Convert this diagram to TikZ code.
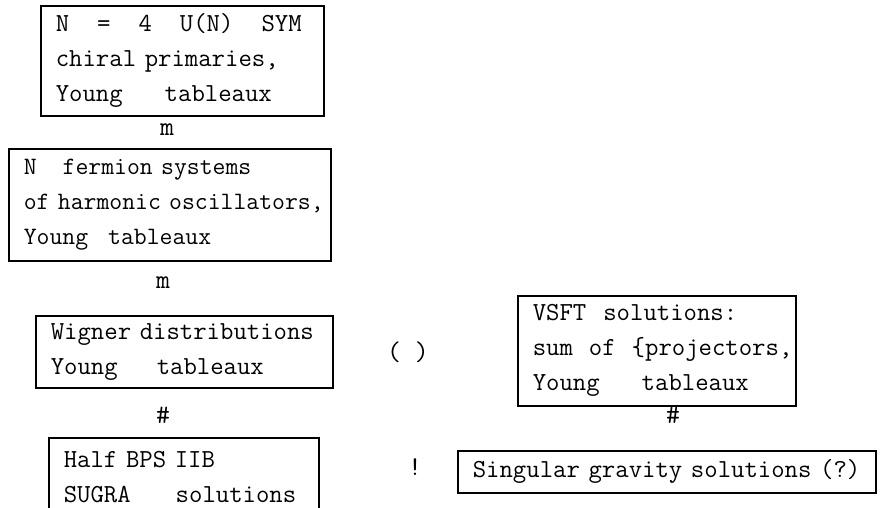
\documentclass[tikz,border=0pt]{standalone}
\usepackage{fontspec}
\newcommand\gp[1]{\hspace*{#1pt}}
\begin{document}
\begin{tikzpicture}[x=1pt,y=-1pt,
  box/.style={draw, line width=1.6pt, anchor=north west, align=left,
    inner xsep=15pt, inner ysep=0pt,
    font=\ttfamily\fontsize{26}{35}\selectfont},
  small/.style={font=\ttfamily\fontsize{25}{35}\selectfont},
  sym/.style={inner sep=0pt, font=\ttfamily\fontsize{27}{30}\selectfont}]
\useasboundingbox (0,0) rectangle (880,507);
\clip (0,0) rectangle (880,507);
\node[box, text width=253pt, minimum height=110pt] (b1) at (40,5)
  {\mbox{N\gp{28}=\gp{28}4\gp{28}U(N)\gp{28}SYM}\\
   \mbox{chiral primaries,}\\
   \mbox{Young\gp{42}tableaux}};
\node[sym] (a1) at (167,130) {m};
\node[box, small, text width=292pt, minimum height=112pt] (b2) at (8,148)
  {\mbox{N\gp{26}fermion systems}\\
   \mbox{of harmonic oscillators,}\\
   \mbox{Young\gp{20}tableaux}};
\node[sym] (a2) at (163,283) {m};
\node[box, text width=267pt, minimum height=72pt] (b3) at (35,315)
  {\mbox{Wigner distributions}\\
   \mbox{Young\gp{39}tableaux}};
\node[sym] (a3) at (408,352) {( )};
\node[box, text width=248pt, minimum height=110pt] (b5) at (517,295)
  {\mbox{VSFT\gp{17}solutions:}\\
   \mbox{sum\gp{16}of\gp{16}\{projectors,}\\
   \mbox{Young\gp{42}tableaux}};
\node[sym] (a4) at (163,415) {\#};
\node[sym] (a5) at (673,415) {\#};
\node[box, text width=240pt, minimum height=78pt] (b4) at (48,437)
  {\mbox{Half BPS IIB}\\
   \mbox{SUGRA\gp{45}solutions}};
\node[sym] (a6) at (415,467) {!};
\node[box, text width=388pt, minimum height=42pt] (b6) at (457,450)
  {\mbox{Singular gravity solutions (?)}};
\end{tikzpicture}
\end{document}
